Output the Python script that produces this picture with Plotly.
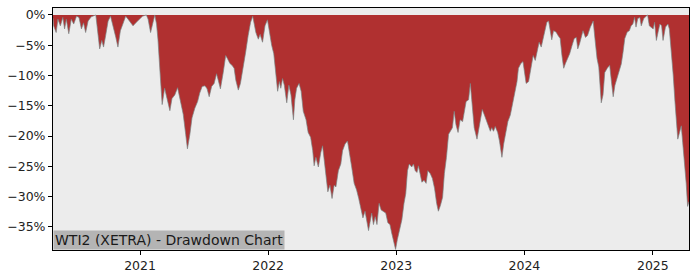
import plotly.graph_objects as go

dates = [
    "2020-04-28", "2020-04-30", "2020-05-07", "2020-05-12", "2020-05-19", "2020-05-26", "2020-05-31",
    "2020-06-05", "2020-06-12", "2020-06-19", "2020-06-26", "2020-07-04", "2020-07-11", "2020-07-18",
    "2020-07-24", "2020-07-30", "2020-08-06", "2020-08-15", "2020-08-28", "2020-08-31", "2020-09-08",
    "2020-09-14", "2020-09-19", "2020-09-25", "2020-10-02", "2020-10-09", "2020-10-16", "2020-10-24",
    "2020-10-30", "2020-11-06", "2020-11-13", "2020-11-21", "2020-11-28", "2020-12-05", "2020-12-12",
    "2020-12-20", "2020-12-29", "2021-01-08", "2021-01-19", "2021-01-24", "2021-01-31", "2021-02-05",
    "2021-02-12", "2021-02-17", "2021-02-21", "2021-02-26", "2021-03-05", "2021-03-12", "2021-03-20",
    "2021-03-27", "2021-04-02", "2021-04-10", "2021-04-18", "2021-04-24", "2021-05-04", "2021-05-11",
    "2021-05-16", "2021-05-23", "2021-05-29", "2021-06-06", "2021-06-14", "2021-06-20", "2021-06-27",
    "2021-07-05", "2021-07-11", "2021-07-17", "2021-07-24", "2021-07-31", "2021-08-07", "2021-08-12",
    "2021-08-18", "2021-08-26", "2021-09-02", "2021-09-07", "2021-09-14", "2021-09-20", "2021-09-26",
    "2021-10-01", "2021-10-08", "2021-10-14", "2021-10-22", "2021-10-29", "2021-11-05", "2021-11-12",
    "2021-11-18", "2021-11-22", "2021-11-27", "2021-12-04", "2021-12-09", "2021-12-16", "2021-12-23",
    "2021-12-30", "2022-01-04", "2022-01-11", "2022-01-17", "2022-01-23", "2022-01-28", "2022-02-02",
    "2022-02-06", "2022-02-11", "2022-02-16", "2022-02-23", "2022-03-01", "2022-03-07", "2022-03-14",
    "2022-03-18", "2022-03-23", "2022-03-30", "2022-04-05", "2022-04-11", "2022-04-19", "2022-04-25",
    "2022-05-02", "2022-05-08", "2022-05-12", "2022-05-17", "2022-05-24", "2022-05-31", "2022-06-05",
    "2022-06-10", "2022-06-15", "2022-06-20", "2022-06-26", "2022-07-02", "2022-07-08", "2022-07-13",
    "2022-07-20", "2022-07-27", "2022-08-01", "2022-08-08", "2022-08-15", "2022-08-20", "2022-08-27",
    "2022-09-03", "2022-09-10", "2022-09-16", "2022-09-22", "2022-09-28", "2022-10-04", "2022-10-09",
    "2022-10-14", "2022-10-18", "2022-10-23", "2022-10-28", "2022-11-02", "2022-11-07", "2022-11-13",
    "2022-11-19", "2022-11-25", "2022-12-02", "2022-12-08", "2022-12-14", "2022-12-19", "2022-12-26",
    "2022-12-30", "2023-01-04", "2023-01-10", "2023-01-17", "2023-01-23", "2023-01-28", "2023-02-02",
    "2023-02-07", "2023-02-14", "2023-02-19", "2023-02-24", "2023-03-01", "2023-03-05", "2023-03-10",
    "2023-03-15", "2023-03-21", "2023-03-27", "2023-04-01", "2023-04-08", "2023-04-14", "2023-04-20",
    "2023-04-26", "2023-05-01", "2023-05-07", "2023-05-13", "2023-05-18", "2023-05-24", "2023-05-30",
    "2023-06-04", "2023-06-10", "2023-06-15", "2023-06-20", "2023-06-26", "2023-07-02", "2023-07-09",
    "2023-07-14", "2023-07-19", "2023-07-26", "2023-07-31", "2023-08-04", "2023-08-11", "2023-08-19",
    "2023-08-26", "2023-09-03", "2023-09-09", "2023-09-14", "2023-09-21", "2023-09-26", "2023-09-30",
    "2023-10-05", "2023-10-10", "2023-10-17", "2023-10-22", "2023-10-29", "2023-11-03", "2023-11-09",
    "2023-11-15", "2023-11-22", "2023-11-28", "2023-12-04", "2023-12-11", "2023-12-15", "2023-12-22",
    "2023-12-28", "2024-01-02", "2024-01-06", "2024-01-13", "2024-01-20", "2024-01-26", "2024-02-01",
    "2024-02-06", "2024-02-12", "2024-02-18", "2024-02-23", "2024-02-29", "2024-03-05", "2024-03-10",
    "2024-03-15", "2024-03-19", "2024-03-24", "2024-03-31", "2024-04-06", "2024-04-12", "2024-04-17",
    "2024-04-22", "2024-04-27", "2024-05-03", "2024-05-09", "2024-05-16", "2024-05-22", "2024-05-28",
    "2024-06-01", "2024-06-06", "2024-06-16", "2024-06-23", "2024-06-29", "2024-07-07", "2024-07-15",
    "2024-07-20", "2024-07-26", "2024-07-31", "2024-08-05", "2024-08-07", "2024-08-12", "2024-08-17",
    "2024-08-24", "2024-08-31", "2024-09-05", "2024-09-10", "2024-09-15", "2024-09-21", "2024-09-28",
    "2024-10-03", "2024-10-08", "2024-10-13", "2024-10-20", "2024-10-26", "2024-10-31", "2024-11-05",
    "2024-11-10", "2024-11-14", "2024-11-19", "2024-11-25", "2024-11-29", "2024-12-06", "2024-12-13",
    "2024-12-17", "2024-12-22", "2024-12-28", "2025-01-02", "2025-01-06", "2025-01-11", "2025-01-16",
    "2025-01-21", "2025-01-26", "2025-01-30", "2025-02-06", "2025-02-13", "2025-02-17", "2025-02-22",
    "2025-02-28", "2025-03-05", "2025-03-09", "2025-03-13", "2025-03-18", "2025-03-23", "2025-03-27",
    "2025-04-01", "2025-04-06", "2025-04-10", "2025-04-14",
]

drawdown_pct = [
    -0.5, -1.8, -2.9, -0.7, -1.8, -0.4, -2.3,
    -0.7, -3.1, -0.7, -1.5, -0.2, -0.4, -2.3,
    -1.3, -2.9, -1.0, -0.3, 0.0, -1.5, -5.6,
    -4.2, -5.3, -3.4, -1.0, -0.2, -2.1, -3.7,
    -5.3, -2.6, -1.5, -0.2, -0.7, -1.3, -1.8,
    -1.3, -0.7, -0.2, 0.0, -0.7, -2.9, -1.5,
    0.0, -1.5, -4.0, -8.6, -14.8, -12.1, -14.3,
    -15.8, -13.8, -13.2, -12.0, -13.5, -16.4, -19.7,
    -22.1, -19.7, -17.0, -15.4, -14.3, -12.9, -11.8,
    -11.7, -12.2, -13.5, -11.8, -11.3, -9.7, -10.8,
    -12.2, -9.5, -6.7, -7.2, -8.0, -8.3, -8.8,
    -10.8, -12.4, -11.3, -8.8, -6.1, -3.4, -1.2,
    -0.2, -1.5, -2.9, -4.0, -3.2, -4.5, -1.8,
    -0.8, -2.9, -5.0, -6.4, -9.4, -12.6, -11.0,
    -12.1, -10.5, -11.6, -14.5, -11.6, -13.2, -17.3,
    -14.0, -12.1, -11.3, -12.6, -15.9, -17.3, -19.4,
    -20.2, -22.4, -24.9, -23.5, -25.1, -22.7, -21.6,
    -24.1, -27.3, -29.2, -28.1, -30.3, -28.1, -28.4,
    -25.7, -24.6, -22.4, -21.3, -20.8, -22.4, -25.1,
    -27.8, -28.9, -30.3, -32.2, -33.5, -32.4, -33.8,
    -35.6, -34.3, -32.7, -34.6, -33.3, -34.6, -31.1,
    -32.2, -32.4, -32.7, -34.3, -34.6, -36.0, -37.6,
    -38.7, -37.1, -35.4, -33.8, -31.1, -29.5, -25.7,
    -24.6, -25.1, -24.6, -25.7, -26.0, -24.9, -26.2,
    -27.6, -27.3, -27.8, -25.7, -26.2, -27.0, -28.6,
    -31.1, -32.4, -31.4, -30.1, -26.2, -23.5, -19.7,
    -19.2, -18.6, -15.9, -18.1, -19.4, -17.3, -17.6,
    -15.9, -14.3, -14.0, -11.3, -14.0, -18.6, -20.5,
    -18.1, -15.6, -16.5, -17.3, -18.4, -19.2, -18.6,
    -19.2, -18.4, -19.4, -20.8, -23.5, -21.3, -19.2,
    -17.6, -16.5, -14.8, -12.6, -11.0, -8.8, -8.0,
    -7.7, -9.4, -11.3, -11.0, -8.3, -6.7, -7.5,
    -5.9, -4.5, -5.3, -3.9, -2.3, -1.2, -1.0,
    -2.8, -4.1, -2.6, -2.8, -3.4, -3.9, -6.7,
    -8.8, -8.0, -7.2, -6.4, -5.0, -3.9, -3.7,
    -5.6, -4.8, -2.6, -3.7, -3.4, -2.0, -1.0,
    -3.9, -7.2, -8.6, -12.1, -14.5, -13.2, -9.5,
    -8.8, -8.3, -11.0, -13.5, -11.6, -10.3, -9.2,
    -8.1, -6.2, -3.9, -2.8, -2.6, -1.8, -1.5,
    -0.4, -2.0, -0.6, -0.4, -1.8, -0.6, -0.2,
    0.0, -1.8, -2.0, -2.3, -1.2, -4.2, -2.8,
    -1.5, -1.8, -4.2, -2.0, -1.5, -2.3, -5.6,
    -9.9, -14.3, -17.5, -20.5, -19.4, -18.3, -21.0,
    -24.0, -27.8, -31.6, -30.8,
]

y_tick_vals = [0, -5, -10, -15, -20, -25, -30, -35]
y_tick_text = ["0%", "\u22125%", "\u221210%", "\u221215%", "\u221220%", "\u221225%", "\u221230%", "\u221235%"]
x_tick_vals = ["2021-01-01", "2022-01-01", "2023-01-01", "2024-01-01", "2025-01-01"]
x_tick_text = ["2021", "2022", "2023", "2024", "2025"]
title_text = "WTI2 (XETRA) - Drawdown Chart"

fig = go.Figure()
fig.add_trace(go.Scatter(
    x=dates, y=drawdown_pct, mode="lines", fill="tozeroy",
    fillcolor="#b03030", line=dict(color="rgba(120,130,130,0.85)", width=0.8),
    hoverinfo="skip", showlegend=False,
))

fig.update_layout(
    width=700, height=280,
    margin=dict(l=53, r=11, t=7, b=28),
    paper_bgcolor="white", plot_bgcolor="#ececec",
    font=dict(family="DejaVu Sans", size=12.5, color="#222222"),
    xaxis=dict(
        range=[dates[0], dates[-1]], tickvals=x_tick_vals, ticktext=x_tick_text,
        showgrid=False, zeroline=False, showline=True, linecolor="black", linewidth=1,
        mirror=True, ticks="outside", ticklen=4, tickcolor="black",
    ),
    yaxis=dict(
        range=[-38.8, 1.15], tickvals=y_tick_vals, ticktext=y_tick_text,
        showgrid=False, zeroline=False, showline=True, linecolor="black", linewidth=1,
        mirror=True, ticks="outside", ticklen=4, tickcolor="black",
    ),
    annotations=[dict(
        text=title_text, xref="paper", yref="paper", x=0, y=0,
        xanchor="left", yanchor="bottom", showarrow=False,
        font=dict(family="DejaVu Sans", size=14, color="#1a1a1a"),
        bgcolor="#b4b4b4", borderpad=1,
    )],
)

fig.write_html("out.html")
